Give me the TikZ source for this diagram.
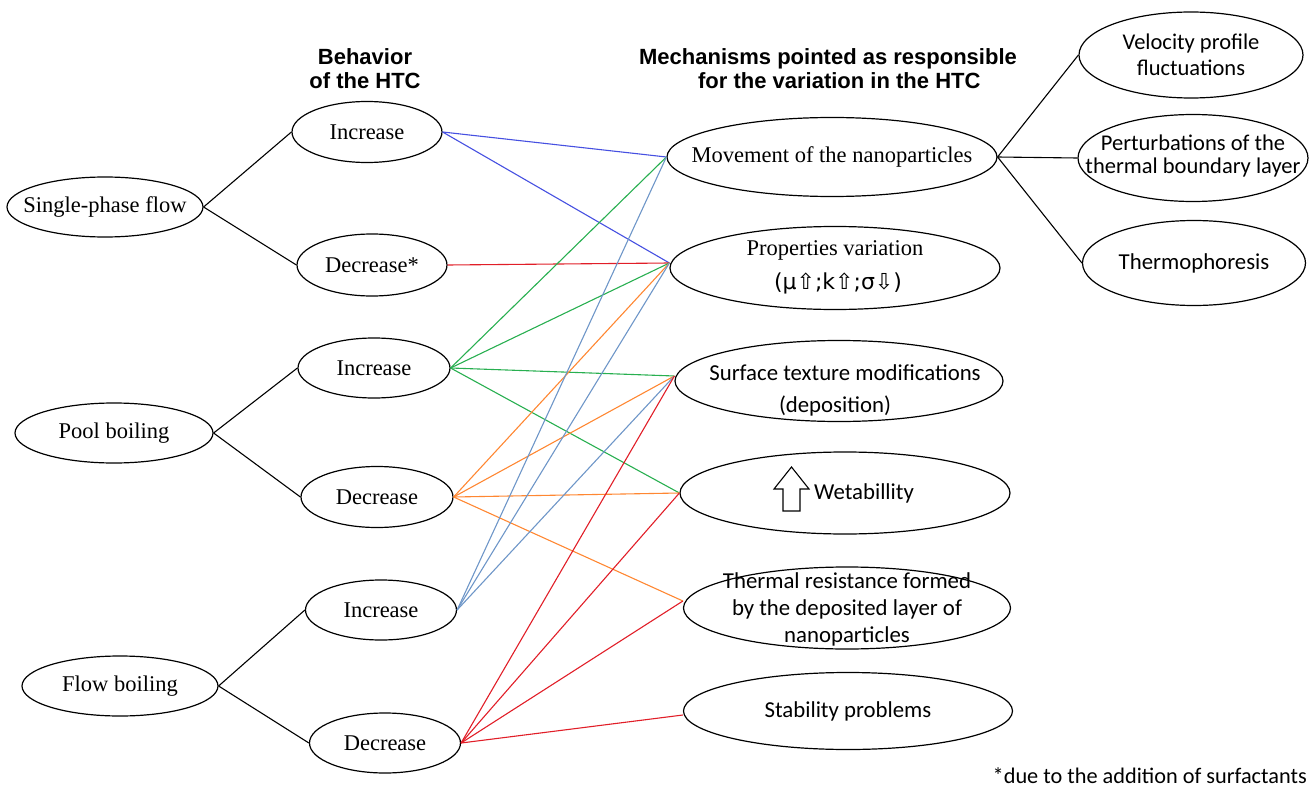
\documentclass[tikz,border=0pt]{standalone}
\usepackage{fontspec}
\setmainfont{Liberation Serif}
\newfontfamily\calfont{Carlito}
\newfontfamily\arialfont{Liberation Sans}
\newfontfamily\djfont{DejaVu Sans}
\usetikzlibrary{shapes.geometric}
\definecolor{cblue}{RGB}{70,80,225}
\definecolor{cgreen}{RGB}{40,175,80}
\definecolor{cred}{RGB}{225,30,40}
\definecolor{corange}{RGB}{255,135,50}
\definecolor{csteel}{RGB}{110,150,200}
\begin{document}
\begin{tikzpicture}[x=1pt,y=-1pt,
  oval/.style={draw=black, line width=1.2pt, ellipse, inner sep=0pt},
  serif/.style={font=\fontsize{22.5}{26}\selectfont, align=center, inner sep=0pt},
  cal/.style={font=\calfont\fontsize{22.8}{27}\selectfont, align=center, inner sep=0pt},
  head/.style={font=\arialfont\bfseries\fontsize{22}{24}\selectfont, inner sep=0pt},
  blk/.style={line width=1.1pt, draw=black},
  link/.style={line width=1.1pt}]
\useasboundingbox (0,0) rectangle (1315,789);
% left column
\node[oval, minimum width=196pt, minimum height=60pt] (sp) at (105,207) {};
\node[serif] (spT) at (sp) {Single-phase flow};
\node[oval, minimum width=198pt, minimum height=60pt] (pb) at (114,433) {};
\node[serif] (pbT) at (pb) {Pool boiling};
\node[oval, minimum width=196pt, minimum height=60pt] (fb) at (120,686) {};
\node[serif] (fbT) at (fb) {Flow boiling};
% middle column
\node[oval, minimum width=150pt, minimum height=61pt] (i1) at (367,132) {};
\node[serif] (i1T) at (i1) {Increase};
\node[oval, minimum width=150pt, minimum height=62pt] (d1) at (372,265) {};
\node[serif] (d1T) at (d1) {Decrease*};
\node[oval, minimum width=152pt, minimum height=60pt] (i2) at (374,368) {};
\node[serif] (i2T) at (i2) {Increase};
\node[oval, minimum width=152pt, minimum height=61pt] (d2) at (377,497) {};
\node[serif] (d2T) at (d2) {Decrease};
\node[oval, minimum width=151pt, minimum height=60pt] (i3) at (381,610) {};
\node[serif] (i3T) at (i3) {Increase};
\node[oval, minimum width=151pt, minimum height=60pt] (d3) at (385,743) {};
\node[serif] (d3T) at (d3) {Decrease};
% right column
\node[oval, minimum width=330pt, minimum height=79pt] (mov) at (832,157) {};
\node[serif] (movT) at (mov) {Movement of the nanoparticles};
\node[oval, minimum width=330pt, minimum height=83pt] (prop) at (835,268) {};
\node[serif] (propA) at (835,250) {Properties variation};
\node[inner sep=0pt, font=\djfont\fontsize{22}{24}\selectfont] (propB) at (838,283) {(μ⇧;k⇧;σ⇩)};
\node[oval, minimum width=328pt, minimum height=81pt] (surf) at (839,381) {};
\node[cal] (surfA) at (845,373) {Surface texture modifications};
\node[cal] (surfB) at (835,406) {(deposition)};
\node[oval, minimum width=330pt, minimum height=82pt] (wet) at (845,493) {};
\node[cal] (wetT) at (864,493) {Wetabillity};
\draw[line width=1.1pt, line join=miter] (783,511) -- (783,489) -- (774,489) -- (791.5,467) -- (809,489) -- (800,489) -- (800,511) -- cycle;
\node[oval, minimum width=327pt, minimum height=82pt] (therm) at (847,608) {};
\node[cal] (thermT) at (847,609) {Thermal resistance formed\\by the deposited layer of\\nanoparticles};
\node[oval, minimum width=329pt, minimum height=77pt] (stab) at (848,711) {};
\node[cal] (stabT) at (stab) {Stability problems};
% far right
\node[oval, minimum width=224pt, minimum height=86pt] (vel) at (1191,55) {};
\node[cal, font=\calfont\fontsize{22.5}{26}\selectfont] (velT) at (vel) {Velocity profile\\fluctuations};
\node[oval, minimum width=230pt, minimum height=87pt] (pert) at (1193,158) {};
\node[cal, font=\calfont\fontsize{22.5}{23}\selectfont] (pertT) at (1193,156) {Perturbations of the\\thermal boundary layer};
\node[oval, minimum width=223pt, minimum height=85pt] (thph) at (1194,263) {};
\node[cal] (thphT) at (thph) {Thermophoresis};
% headers
\node[head, align=center] (h1) at (365,69) {Behavior\\of the HTC};
\node[head, align=left] (h2) at (828,69) {Mechanisms pointed as responsible\\\hspace*{59pt}for the variation in the HTC};
\node[cal, font=\calfont\fontsize{22.3}{26}\selectfont, anchor=east] (foot) at (1307,776) {*due to the addition of surfactants};
% black links
\draw[blk] (sp.east) -- (i1.west);
\draw[blk] (sp.east) -- (d1.west);
\draw[blk] (pb.east) -- (i2.west);
\draw[blk] (pb.east) -- (d2.west);
\draw[blk] (fb.east) -- (i3.west);
\draw[blk] (fb.east) -- (d3.west);
\draw[blk] (mov.east) -- (vel.west);
\draw[blk] (mov.east) -- (pert.west);
\draw[blk] (mov.east) -- (thph.west);
% connection points on the right column
\coordinate (pW) at ([yshift=5pt]prop.west);
\coordinate (sW) at ([yshift=5pt]surf.west);
\coordinate (tW) at ([yshift=7pt]therm.west);
\coordinate (bW) at ([yshift=-4pt]stab.west);
% coloured links
\draw[link, cblue] (i1.east) -- (mov.west);
\draw[link, cblue] (i1.east) -- (pW);
\draw[link, cred] (d1.east) -- (pW);
\draw[link, cgreen] (i2.east) -- (mov.west);
\draw[link, cgreen] (i2.east) -- (pW);
\draw[link, cgreen] (i2.east) -- (sW);
\draw[link, cgreen] (i2.east) -- (wet.west);
\draw[link, corange] (d2.east) -- (pW);
\draw[link, corange] (d2.east) -- (sW);
\draw[link, corange] (d2.east) -- (wet.west);
\draw[link, corange] (d2.east) -- (tW);
\draw[link, csteel] (i3.east) -- (mov.west);
\draw[link, csteel] (i3.east) -- (pW);
\draw[link, csteel] (i3.east) -- (sW);
\draw[link, cred] (d3.east) -- (sW);
\draw[link, cred] (d3.east) -- (wet.west);
\draw[link, cred] (d3.east) -- (tW);
\draw[link, cred] (d3.east) -- (bW);
\end{tikzpicture}
\end{document}
